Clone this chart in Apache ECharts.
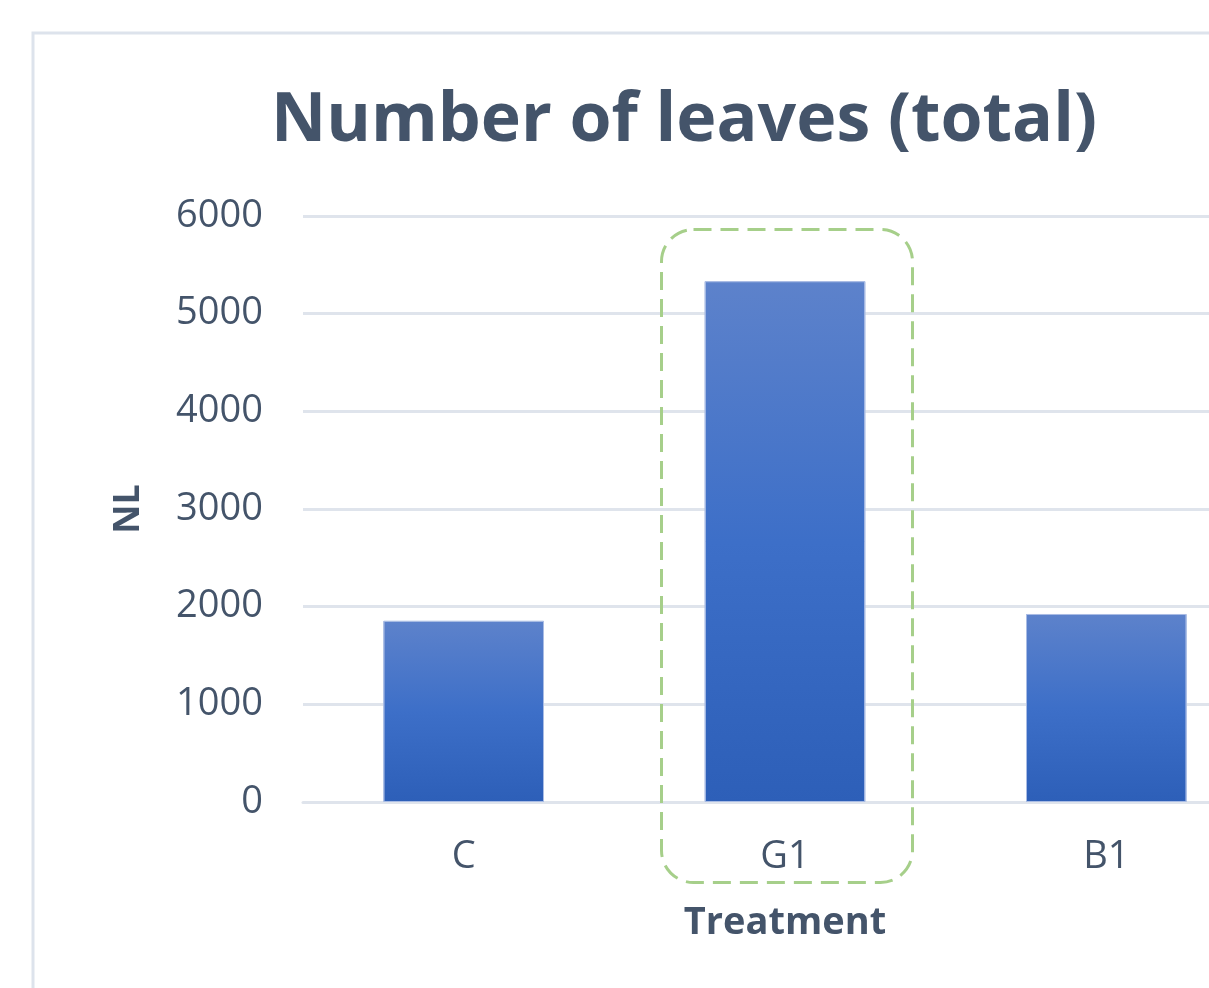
<!DOCTYPE html>
<html>
<head>
<meta charset="utf-8">
<title>Number of leaves (total)</title>
<script src="https://cdn.jsdelivr.net/npm/echarts@6/dist/echarts.min.js"></script>
<style>
  html, body { margin: 0; padding: 0; background: #fff; overflow: hidden; }
  /* the chart runs past the right edge of the picture, so the canvas is wider than the window */
  #chart { width: 1330px; height: 988px; }
</style>
</head>
<body>
<div id="chart"></div>
<script>
// data
var treatments = ['C', 'G1', 'B1'];
var leaves = [1855, 5333, 1925];
var yTicks = [0, 1000, 2000, 3000, 4000, 5000, 6000];

var textColor = '#44546a';
var gridColor = '#dfe4ec';
var font = '"Open Sans", "Noto Sans", sans-serif';

var myChart = echarts.init(document.getElementById('chart'));

var option = {
    backgroundColor: '#fff',
    animation: false,
    title: {
        text: 'Number of leaves (total)',
        left: 679,
        textAlign: 'center',
        top: 83,
        textStyle: { fontFamily: font, fontSize: 68, fontWeight: 'bold', color: textColor }
    },
    grid: { left: 303, top: 216, width: 964, height: 586, containLabel: false },
    xAxis: {
        type: 'category',
        data: treatments,
        name: 'Treatment',
        nameLocation: 'middle',
        nameGap: 102,
        nameTextStyle: { fontFamily: font, fontSize: 38, fontWeight: 'bold', color: textColor },
        axisLine: { lineStyle: { color: gridColor, width: 3 } },
        axisTick: { show: false },
        axisLabel: { fontFamily: font, fontSize: 38, color: textColor, margin: 36 }
    },
    yAxis: {
        type: 'value',
        min: yTicks[0],
        max: yTicks[yTicks.length - 1],
        interval: yTicks[1] - yTicks[0],
        name: 'NL',
        nameLocation: 'middle',
        nameGap: 156,
        nameTextStyle: { fontFamily: font, fontSize: 36, fontWeight: 'bold', color: textColor },
        axisLine: { show: false },
        axisTick: { show: false },
        splitLine: { lineStyle: { color: gridColor, width: 3 } },
        axisLabel: {
            fontFamily: font, fontSize: 38, color: textColor, margin: 40,
            formatter: function (v) { return String(v); }
        }
    },
    series: [{
        type: 'bar',
        data: leaves,
        barWidth: '50%',
        itemStyle: {
            color: new echarts.graphic.LinearGradient(0, 0, 0, 1, [
                { offset: 0, color: '#5d82cb' },
                { offset: 0.5, color: '#3d6fc8' },
                { offset: 1, color: '#2d5fb8' }
            ]),
            borderColor: '#a9bce4',
            borderWidth: 1
        }
    }]
};
myChart.setOption(option);

// outer chart frame and the dashed highlight round G1
var g1x = myChart.convertToPixel({ xAxisIndex: 0 }, 'G1');
myChart.setOption({
    graphic: [
        {
            type: 'rect',
            shape: { x: 33, y: 33, width: 1280, height: 1000 },
            style: { fill: null, stroke: '#dde3ec', lineWidth: 3 },
            silent: true
        },
        {
            type: 'rect',
            shape: { x: g1x - 123.5, y: 229.5, width: 251, height: 653, r: 32 },
            style: { fill: null, stroke: '#a6cf8a', lineWidth: 3, lineDash: [18, 9] },
            silent: true,
            z: 10
        }
    ]
});
</script>
</body>
</html>
